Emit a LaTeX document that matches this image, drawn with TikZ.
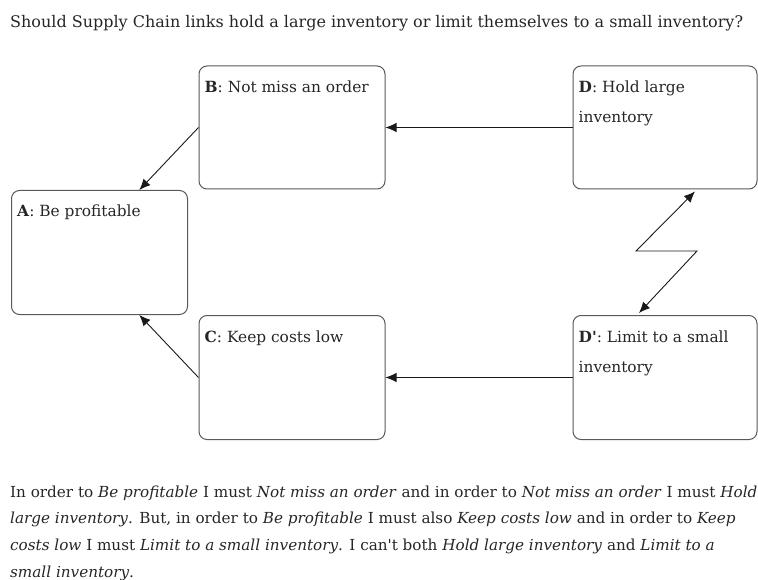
\documentclass[tikz,border=0pt]{standalone}
\usepackage{fontspec}
\setmainfont{DejaVu Serif}
\usetikzlibrary{calc,arrows.meta}

\tikzset{
  box/.style={draw=black!65,line width=1pt,rounded corners=8pt,
    minimum width=186pt,minimum height=123pt,inner sep=0pt},
  lbl/.style={anchor=base west,inner sep=0pt,align=left,
    font=\fontsize{15.4}{30}\selectfont,text=black!85},
  prose/.style={anchor=base west,inner sep=0pt,
    font=\fontsize{15.2}{17}\selectfont,text=black!85},
  arr/.style={-{Latex[length=11pt,width=9.5pt]},line width=0.9pt,black!90},
  clash/.style={{Latex[length=11pt,width=9.5pt]}-{Latex[length=11pt,width=9.5pt]},line width=0.9pt,black!90},
}

\begin{document}
\begin{tikzpicture}[x=1pt,y=-1pt]
  \useasboundingbox (0,0) rectangle (758,580) ;
  %\draw[very thin,gray,step=50] (0,0) grid (758,580) ;
  \node[prose,font=\fontsize{16}{17}\selectfont] (qn) at (10,28) {Should Supply Chain links hold a large inventory or limit themselves to a small inventory?} ;
  % the five boxes
  \node[box,minimum width=176pt,minimum height=124pt] (a) at (99.5,252.5) {} ;
  \node[box] (b) at (292,127.5) {} ;
  \node[box,minimum height=124pt] (c) at (292,377.5) {} ;
  \node[box,minimum width=184pt] (d) at (665,127.5) {} ;
  \node[box,minimum width=184pt,minimum height=124pt] (dp) at (665,377.5) {} ;
  % their texts (base of a two line node is its last line)
  \node[lbl] (at) at ($(a.north west)+(6,27)$) {\textbf{A}: Be profitable} ;
  \node[lbl] (bt) at ($(b.north west)+(6,27)$) {\textbf{B}: Not miss an order} ;
  \node[lbl] (ct) at ($(c.north west)+(6,27)$) {\textbf{C}: Keep costs low} ;
  \node[lbl] (dt) at ($(d.north west)+(6,57)$) {\textbf{D}: Hold large\\inventory} ;
  \node[lbl] (dpt) at ($(dp.north west)+(6,57)$) {\textbf{D\textquotesingle}: Limit to a small\\inventory} ;
  % arrows
  \draw[arr] (b.west) -- ($(a.north)!0.45!(a.north east)$) ;
  \draw[arr] (c.west) -- ($(a.south)!0.45!(a.south east)$) ;
  \draw[arr] (d.west) -- (b.east) ;
  \draw[arr] (dp.west) -- (c.east) ;
  % conflict between D and D'
  \draw[clash] ($(dp.north)+(-26,-2)$) -- ++(58,-62) -- ++(-61,0) -- ($(d.south)+(30,2)$) ;
  % the explanation
  \node[prose] (p1) at (10,497) {In order to \emph{Be profitable} I must \emph{Not miss an order} and in order to \emph{Not miss an order} I must \emph{Hold}} ;
  \node[prose] (p2) at (10,523.7) {\emph{large inventory}. But, in order to \emph{Be profitable} I must also \emph{Keep costs low} and in order to \emph{Keep}} ;
  \node[prose] (p3) at (10,550.3) {\emph{costs low} I must \emph{Limit to a small inventory}. I can\textquotesingle t both \emph{Hold large inventory} and \emph{Limit to a}} ;
  \node[prose] (p4) at (10,577) {\emph{small inventory}.} ;
\end{tikzpicture}
\end{document}
